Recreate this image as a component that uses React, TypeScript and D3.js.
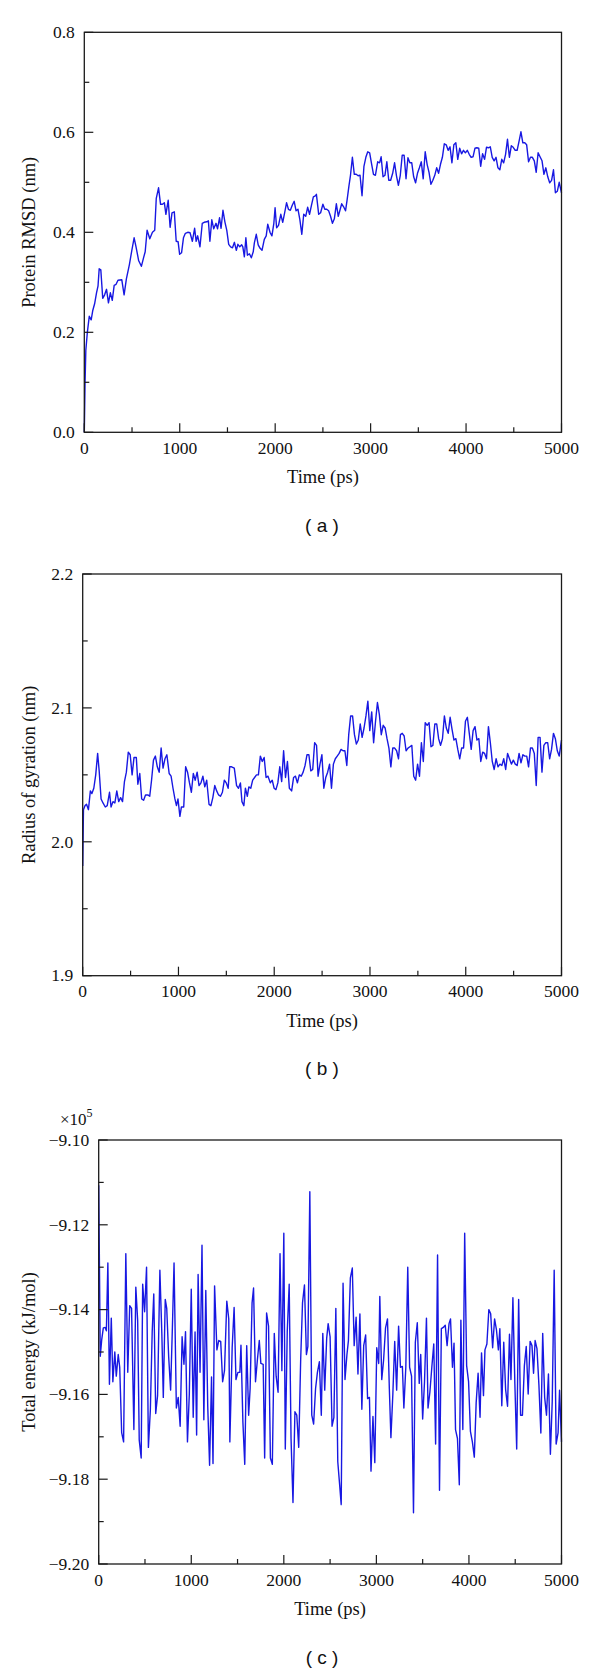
import React from "react";
import * as d3 from "d3";

// ---------- Panel (a): Protein RMSD ----------
const rmsdTime = [0,8,16,32,52,72,88,108,128,144,156,173,193,213,233,253,273,293,313,333,353,393,417,441,473,498,522,542,570,598,622,638,658,686,714,738,754,778,799,819,839,855,879,899,919,943,963,983,999,1019,1039,1059,1084,1108,1132,1156,1172,1188,1212,1236,1256,1284,1300,1316,1336,1356,1380,1396,1417,1433,1453,1473,1493,1513,1533,1553,1573,1593,1609,1629,1649,1661,1677,1693,1709,1730,1750,1770,1782,1802,1822,1842,1862,1886,1906,1922,1946,1966,1986,1999,2015,2035,2059,2079,2099,2119,2139,2159,2179,2199,2219,2239,2259,2279,2299,2320,2340,2360,2380,2400,2420,2432,2456,2476,2500,2520,2540,2560,2580,2600,2620,2641,2661,2677,2697,2717,2737,2753,2773,2789,2809,2829,2849,2869,2889,2910,2930,2950,2970,2990,3010,3030,3050,3074,3094,3110,3130,3150,3170,3190,3210,3231,3251,3271,3291,3311,3331,3351,3371,3391,3411,3431,3451,3471,3491,3511,3531,3551,3572,3592,3612,3632,3652,3672,3692,3712,3732,3752,3772,3792,3812,3832,3852,3872,3893,3913,3933,3953,3973,3993,4013,4033,4053,4073,4093,4113,4133,4153,4173,4194,4214,4234,4254,4274,4294,4314,4334,4354,4374,4394,4414,4434,4454,4474,4494,4515,4535,4555,4575,4595,4615,4635,4655,4675,4695,4715,4735,4755,4775,4796,4816,4836,4856,4876,4896,4916,4936,4956,4976,5000];
const rmsdValue = [0.0,0.10,0.164,0.20,0.232,0.225,0.243,0.257,0.279,0.293,0.327,0.325,0.268,0.275,0.286,0.259,0.279,0.264,0.294,0.296,0.304,0.305,0.275,0.307,0.336,0.364,0.389,0.371,0.343,0.332,0.35,0.361,0.404,0.387,0.40,0.404,0.468,0.489,0.456,0.456,0.459,0.436,0.464,0.41,0.439,0.441,0.382,0.381,0.356,0.359,0.389,0.398,0.40,0.399,0.382,0.408,0.382,0.393,0.371,0.418,0.42,0.421,0.423,0.382,0.425,0.407,0.418,0.407,0.429,0.408,0.444,0.421,0.404,0.376,0.371,0.369,0.38,0.364,0.376,0.371,0.375,0.371,0.351,0.389,0.354,0.357,0.349,0.361,0.379,0.396,0.375,0.368,0.364,0.386,0.393,0.416,0.40,0.393,0.418,0.449,0.409,0.414,0.436,0.42,0.439,0.459,0.446,0.444,0.454,0.462,0.443,0.446,0.425,0.396,0.436,0.432,0.45,0.436,0.454,0.471,0.473,0.476,0.436,0.439,0.456,0.446,0.446,0.443,0.432,0.418,0.427,0.457,0.432,0.443,0.457,0.451,0.443,0.464,0.493,0.514,0.55,0.516,0.516,0.513,0.514,0.473,0.532,0.55,0.561,0.559,0.537,0.516,0.514,0.541,0.539,0.551,0.511,0.514,0.541,0.504,0.504,0.518,0.539,0.513,0.494,0.514,0.554,0.554,0.507,0.549,0.539,0.539,0.511,0.499,0.518,0.529,0.541,0.507,0.561,0.536,0.52,0.496,0.504,0.514,0.529,0.518,0.536,0.55,0.577,0.575,0.564,0.571,0.539,0.575,0.579,0.546,0.568,0.557,0.564,0.559,0.564,0.556,0.55,0.551,0.568,0.569,0.568,0.532,0.557,0.546,0.57,0.569,0.571,0.55,0.543,0.55,0.529,0.525,0.546,0.539,0.556,0.586,0.55,0.573,0.57,0.564,0.564,0.582,0.601,0.579,0.579,0.575,0.541,0.55,0.55,0.543,0.52,0.559,0.551,0.543,0.516,0.529,0.511,0.499,0.504,0.525,0.479,0.482,0.50,0.479];

// ---------- Panel (b): Radius of gyration ----------
const rgTime = [0,8,24,40,60,80,96,116,136,156,172,192,212,236,256,280,296,316,336,356,376,396,416,436,456,476,496,516,536,560,576,596,616,636,656,680,700,719,739,759,779,799,819,839,859,879,903,923,943,963,979,995,1015,1031,1055,1075,1095,1115,1135,1155,1175,1195,1215,1235,1255,1275,1295,1319,1339,1359,1379,1399,1419,1439,1459,1479,1499,1519,1535,1555,1583,1607,1627,1647,1663,1683,1699,1719,1735,1755,1775,1795,1815,1835,1855,1875,1895,1915,1935,1959,1979,1999,2018,2038,2058,2078,2098,2118,2138,2158,2182,2202,2222,2242,2262,2282,2302,2322,2342,2362,2382,2402,2422,2442,2458,2478,2498,2518,2538,2558,2578,2598,2618,2638,2658,2678,2698,2718,2738,2758,2778,2798,2818,2838,2858,2878,2898,2918,2938,2958,2978,2998,3018,3038,3058,3078,3098,3118,3138,3158,3178,3198,3218,3238,3258,3278,3298,3318,3337,3357,3377,3397,3417,3437,3457,3477,3497,3517,3537,3557,3577,3597,3617,3637,3657,3677,3697,3717,3737,3757,3777,3797,3817,3837,3857,3877,3897,3917,3937,3957,3977,3997,4017,4037,4057,4077,4097,4117,4137,4157,4177,4197,4217,4237,4257,4277,4297,4317,4337,4357,4377,4397,4417,4437,4457,4477,4497,4517,4537,4557,4577,4597,4617,4637,4656,4676,4696,4716,4736,4756,4776,4796,4816,4836,4856,4876,4896,4916,4936,4956,4976,5000];
const rgValue = [1.982,2.024,2.027,2.028,2.024,2.038,2.036,2.04,2.05,2.066,2.053,2.032,2.029,2.026,2.027,2.037,2.026,2.03,2.029,2.038,2.03,2.033,2.03,2.045,2.052,2.067,2.065,2.05,2.063,2.063,2.043,2.051,2.032,2.031,2.035,2.035,2.034,2.046,2.061,2.064,2.056,2.052,2.07,2.055,2.062,2.065,2.051,2.049,2.04,2.032,2.027,2.032,2.019,2.026,2.026,2.056,2.052,2.044,2.037,2.051,2.046,2.052,2.042,2.044,2.049,2.041,2.046,2.028,2.027,2.033,2.042,2.038,2.035,2.034,2.037,2.046,2.044,2.04,2.056,2.056,2.055,2.042,2.04,2.044,2.03,2.027,2.04,2.034,2.041,2.04,2.046,2.048,2.05,2.05,2.064,2.06,2.063,2.048,2.049,2.044,2.046,2.04,2.039,2.044,2.056,2.045,2.068,2.048,2.06,2.04,2.038,2.048,2.049,2.044,2.05,2.049,2.052,2.057,2.065,2.065,2.053,2.054,2.074,2.072,2.049,2.058,2.065,2.04,2.048,2.052,2.058,2.04,2.058,2.062,2.064,2.066,2.069,2.068,2.068,2.057,2.08,2.094,2.094,2.08,2.073,2.076,2.088,2.078,2.085,2.094,2.105,2.083,2.097,2.074,2.09,2.104,2.095,2.08,2.087,2.085,2.077,2.07,2.056,2.07,2.07,2.068,2.062,2.08,2.081,2.079,2.068,2.07,2.071,2.072,2.049,2.046,2.058,2.049,2.074,2.06,2.089,2.087,2.089,2.071,2.072,2.088,2.088,2.077,2.072,2.077,2.094,2.085,2.081,2.093,2.084,2.076,2.077,2.069,2.062,2.07,2.07,2.09,2.093,2.081,2.069,2.083,2.086,2.076,2.077,2.06,2.067,2.066,2.062,2.086,2.074,2.06,2.054,2.062,2.056,2.058,2.057,2.062,2.054,2.066,2.062,2.058,2.061,2.058,2.057,2.066,2.059,2.065,2.064,2.064,2.056,2.07,2.07,2.066,2.042,2.078,2.078,2.052,2.072,2.074,2.074,2.062,2.069,2.081,2.077,2.068,2.064,2.076];

// ---------- Panel (c): Total energy (x10^5 kJ/mol) ----------
const energyTime = [0,17,33,50,70,83,99,116,136,153,174,190,211,227,248,269,293,314,335,355,380,401,421,438,459,475,496,517,537,558,578,595,616,636,661,682,698,719,735,756,777,797,814,839,859,880,901,921,938,959,979,1000,1021,1041,1058,1074,1095,1116,1136,1157,1178,1198,1219,1235,1252,1277,1297,1318,1339,1359,1384,1405,1417,1442,1463,1483,1504,1525,1537,1558,1578,1599,1620,1636,1657,1673,1694,1715,1735,1752,1777,1793,1814,1835,1855,1876,1897,1917,1938,1959,1979,2000,2016,2037,2058,2078,2099,2120,2140,2161,2182,2202,2223,2244,2260,2281,2302,2322,2343,2363,2384,2405,2421,2442,2463,2479,2500,2521,2541,2562,2583,2603,2620,2640,2661,2682,2698,2719,2740,2760,2781,2801,2822,2843,2863,2884,2905,2925,2942,2963,2983,3004,3025,3037,3058,3078,3099,3120,3140,3157,3178,3198,3219,3240,3260,3281,3297,3318,3339,3359,3380,3401,3421,3442,3463,3479,3500,3520,3541,3558,3578,3599,3620,3640,3661,3682,3702,3723,3744,3764,3785,3801,3822,3839,3855,3876,3896,3913,3934,3954,3975,3996,4016,4037,4058,4078,4099,4120,4136,4157,4173,4194,4215,4235,4256,4277,4297,4318,4334,4355,4376,4396,4417,4438,4454,4475,4496,4516,4537,4558,4578,4599,4619,4640,4661,4681,4698,4715,4735,4756,4777,4797,4818,4838,4859,4880,4900,4921,4942,4963,4979,5000];
const energyValue = [-9.1107,-9.151,-9.147,-9.1443,-9.1442,-9.145,-9.129,-9.1576,-9.142,-9.157,-9.15,-9.1557,-9.1506,-9.1536,-9.169,-9.1712,-9.1268,-9.1548,-9.1391,-9.1397,-9.1683,-9.1347,-9.1426,-9.1708,-9.175,-9.134,-9.1405,-9.13,-9.1725,-9.1637,-9.1452,-9.1363,-9.1645,-9.1603,-9.1307,-9.1456,-9.1607,-9.1376,-9.1397,-9.1511,-9.159,-9.1435,-9.129,-9.1632,-9.1607,-9.1675,-9.1464,-9.1529,-9.1452,-9.1712,-9.1599,-9.1352,-9.1654,-9.1453,-9.1696,-9.1317,-9.1548,-9.1248,-9.166,-9.1355,-9.1628,-9.1767,-9.1559,-9.1763,-9.1344,-9.1495,-9.1473,-9.1475,-9.157,-9.1544,-9.138,-9.1422,-9.1712,-9.149,-9.1395,-9.1565,-9.1548,-9.1548,-9.1484,-9.1666,-9.1765,-9.1485,-9.1649,-9.1586,-9.1384,-9.1349,-9.157,-9.1517,-9.1473,-9.1527,-9.1529,-9.175,-9.1408,-9.1439,-9.175,-9.1765,-9.1456,-9.1557,-9.1595,-9.1268,-9.1544,-9.122,-9.1729,-9.1452,-9.134,-9.1704,-9.1855,-9.1641,-9.1649,-9.1725,-9.1519,-9.1384,-9.1342,-9.1506,-9.1487,-9.1122,-9.1649,-9.167,-9.1586,-9.1548,-9.1523,-9.1649,-9.1456,-9.159,-9.1468,-9.1433,-9.1464,-9.1675,-9.1654,-9.1397,-9.1759,-9.1813,-9.186,-9.1338,-9.1565,-9.1506,-9.1473,-9.1325,-9.1302,-9.1485,-9.1418,-9.1552,-9.141,-9.1635,-9.1485,-9.146,-9.161,-9.1607,-9.1781,-9.1652,-9.1761,-9.149,-9.1527,-9.1369,-9.1565,-9.1519,-9.1443,-9.1422,-9.1586,-9.1702,-9.1599,-9.1475,-9.159,-9.1439,-9.1536,-9.1534,-9.1632,-9.1536,-9.13,-9.1536,-9.1557,-9.1879,-9.1477,-9.1431,-9.1574,-9.1506,-9.1658,-9.157,-9.142,-9.1632,-9.1595,-9.1536,-9.1481,-9.1717,-9.1271,-9.1826,-9.1445,-9.1442,-9.1437,-9.1485,-9.1433,-9.1422,-9.1536,-9.1479,-9.1683,-9.1704,-9.1813,-9.1425,-9.1683,-9.122,-9.1532,-9.157,-9.1687,-9.1712,-9.1748,-9.162,-9.155,-9.1654,-9.1502,-9.1603,-9.1495,-9.1481,-9.14,-9.141,-9.149,-9.1422,-9.1447,-9.1495,-9.1445,-9.1627,-9.1477,-9.1588,-9.1628,-9.1458,-9.1565,-9.1372,-9.1574,-9.1729,-9.1376,-9.1649,-9.1649,-9.1532,-9.1487,-9.1599,-9.1475,-9.1485,-9.155,-9.1473,-9.1492,-9.1578,-9.1691,-9.1456,-9.1607,-9.1649,-9.1552,-9.1741,-9.1616,-9.1307,-9.1717,-9.1691,-9.159,-9.1712];

// ---------- Axis ticks and labels ----------
const xMajorTicks = [0, 1000, 2000, 3000, 4000, 5000];
const xMinorTicks = [500, 1500, 2500, 3500, 4500];
const rmsdMajorTicks = [0.0, 0.2, 0.4, 0.6, 0.8];
const rmsdMinorTicks = [0.1, 0.3, 0.5, 0.7];
const rgMajorTicks = [1.9, 2.0, 2.1, 2.2];
const rgMinorTicks = [1.95, 2.05, 2.15];
const energyMajorTicks = [-9.2, -9.18, -9.16, -9.14, -9.12, -9.1];
const energyMinorTicks = [-9.19, -9.17, -9.15, -9.13, -9.11];
const xTitle = "Time (ps)";
const yTitles = ["Protein RMSD (nm)", "Radius of gyration (nm)", "Total energy (kJ/mol)"];
const panelLabels = ["( a )", "( b )", "( c )"];

const LINE = "#1818e2";
const AXIS = "#1a1a1a";
const SERIF = "'Liberation Serif', 'Times New Roman', serif";
const SANS = "'Liberation Sans', Arial, sans-serif";

type PanelProps = {
  times: number[];
  values: number[];
  yDomain: [number, number];
  yMajor: number[];
  yMinor: number[];
  yFmt: (v: number) => string;
  box: { left: number; right: number; top: number; bottom: number };
  yTitle: string;
  label: string;
  exponent?: boolean;
};

function Panel(p: PanelProps) {
  const { left, right, top, bottom } = p.box;
  const x = d3.scaleLinear().domain([0, 5000]).range([left, right]);
  const y = d3.scaleLinear().domain(p.yDomain).range([bottom, top]);
  const pts: [number, number][] = p.times.map((t, i) => [t, p.values[i]]);
  const line = d3
    .line<[number, number]>()
    .x((d) => x(d[0]))
    .y((d) => y(d[1]));
  const cx = (left + right) / 2;
  const cy = (top + bottom) / 2;
  return (
    <g>
      <path d={line(pts) || ""} fill="none" stroke={LINE} strokeWidth={1.4} strokeLinejoin="round" />
      <rect x={left} y={top} width={right - left} height={bottom - top} fill="none" stroke={AXIS} strokeWidth={1.3} />
      {xMajorTicks.map((t) => (
        <g key={"xM" + t}>
          <line x1={x(t)} x2={x(t)} y1={bottom} y2={bottom - 9} stroke={AXIS} strokeWidth={1.2} />
          <text x={x(t)} y={bottom + 21.7} fontFamily={SERIF} fontSize={17.5} textAnchor="middle" fill="#111">
            {t}
          </text>
        </g>
      ))}
      {xMinorTicks.map((t) => (
        <line key={"xm" + t} x1={x(t)} x2={x(t)} y1={bottom} y2={bottom - 5} stroke={AXIS} strokeWidth={1.2} />
      ))}
      {p.yMajor.map((v) => (
        <g key={"yM" + v}>
          <line x1={left} x2={left + 9} y1={y(v)} y2={y(v)} stroke={AXIS} strokeWidth={1.2} />
          <text x={left - 9.5} y={y(v)} dy="0.33em" fontFamily={SERIF} fontSize={17.5} textAnchor="end" fill="#111">
            {p.yFmt(v)}
          </text>
        </g>
      ))}
      {p.yMinor.map((v) => (
        <line key={"ym" + v} x1={left} x2={left + 5} y1={y(v)} y2={y(v)} stroke={AXIS} strokeWidth={1.2} />
      ))}
      {p.exponent && (
        <text x={60} y={top - 15} fontFamily={SERIF} fontSize={17} fill="#111">
          ×10
          <tspan fontSize={12} dy={-8}>5</tspan>
        </text>
      )}
      <text x={cx} y={bottom + 51} fontFamily={SERIF} fontSize={18.5} textAnchor="middle" fill="#111">
        {xTitle}
      </text>
      <text
        transform={`translate(35,${cy}) rotate(-90)`}
        fontFamily={SERIF}
        fontSize={18.5}
        textAnchor="middle"
        fill="#111"
      >
        {p.yTitle}
      </text>
      <text x={322} y={bottom + 99.5} fontFamily={SANS} fontSize={19} textAnchor="middle" fill="#111">
        {p.label}
      </text>
    </g>
  );
}

const minus = (s: string) => s.replace("-", "\u2212");

export default function App() {
  return (
    <div style={{ position: "absolute", left: 0, top: 0, width: 600, height: 1670, background: "#fff" }}>
      <svg width={600} height={1670} viewBox="0 0 600 1670" style={{ display: "block" }}>
        <rect x={0} y={0} width={600} height={1670} fill="#fff" />
        <Panel
          times={rmsdTime}
          values={rmsdValue}
          yDomain={[0, 0.8]}
          yMajor={rmsdMajorTicks}
          yMinor={rmsdMinorTicks}
          yFmt={(v) => d3.format(".1f")(v)}
          box={{ left: 84.3, right: 561.5, top: 32.3, bottom: 432.3 }}
          yTitle={yTitles[0]}
          label={panelLabels[0]}
        />
        <Panel
          times={rgTime}
          values={rgValue}
          yDomain={[1.9, 2.2]}
          yMajor={rgMajorTicks}
          yMinor={rgMinorTicks}
          yFmt={(v) => d3.format(".1f")(v)}
          box={{ left: 82.7, right: 561.5, top: 574, bottom: 975.7 }}
          yTitle={yTitles[1]}
          label={panelLabels[1]}
        />
        <Panel
          times={energyTime}
          values={energyValue}
          yDomain={[-9.2, -9.1]}
          yMajor={energyMajorTicks}
          yMinor={energyMinorTicks}
          yFmt={(v) => minus(v.toFixed(2))}
          box={{ left: 98.7, right: 561.5, top: 1140, bottom: 1564 }}
          yTitle={yTitles[2]}
          label={panelLabels[2]}
          exponent
        />
      </svg>
    </div>
  );
}
